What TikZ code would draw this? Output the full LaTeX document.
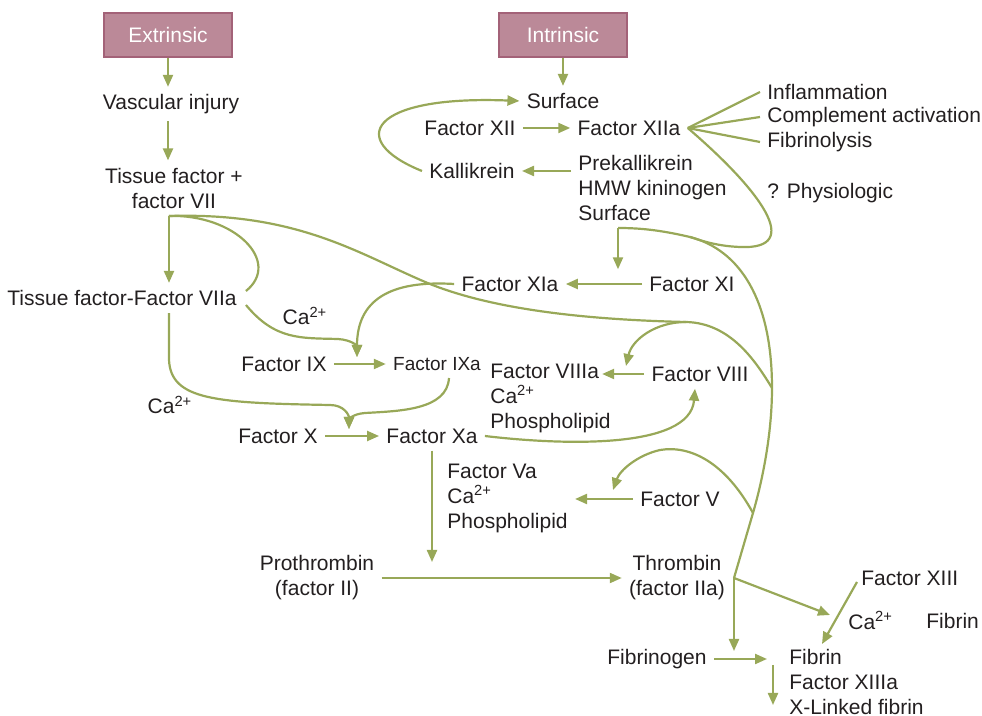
\documentclass[tikz,border=0pt]{standalone}
\usepackage{fontspec}
\setmainfont{Liberation Sans}
\usetikzlibrary{arrows.meta,positioning,calc}
\definecolor{grn}{RGB}{152,168,88}
\definecolor{boxfill}{RGB}{187,137,152}
\definecolor{boxline}{RGB}{163,98,120}
\definecolor{ink}{RGB}{35,31,32}
\newcommand{\Ca}{Ca\textsuperscript{2+}}

\begin{document}
\begin{tikzpicture}[x=0.5pt,y=-0.5pt,
  t/.style={font=\fontsize{10.5}{12.5}\selectfont,text=ink,inner sep=3.5pt},
  tl/.style={t,anchor=west,align=left},
  box/.style={draw=boxline,line width=1pt,fill=boxfill,text=white,font=\fontsize{10.5}{12.5}\selectfont,minimum width=64pt,minimum height=22pt},
  ln/.style={grn,line width=1.1pt},
  arr/.style={ln,-{Triangle[length=6pt,width=5pt]}}]
\useasboundingbox (0,0) rectangle (982,716);
\node[box] (ext) at (168,35) {Extrinsic};
\node[box] (intr) at (563,35) {Intrinsic};
\node[t] (vasc) at (171,104) {Vascular injury};
\node[t,align=center] (tf) at (174,188) {Tissue factor +\\factor VII};
\node[t] (tfa) at (122,298) {Tissue factor-Factor VIIa};
\node[t] (ca1) at (305,316) {\Ca};
\node[t] (f9) at (284,364) {Factor IX};
\node[t,font=\fontsize{9.5}{11}\selectfont] (f9a) at (437,364) {Factor IXa};
\node[t] (ca2) at (170,405) {\Ca};
\node[t] (f10) at (278,436) {Factor X};
\node[t] (f10a) at (432,436) {Factor Xa};
\node[tl] (f8a) at (483,398) {Factor VIIIa\\\Ca\\Phospholipid};
\node[t] (f8) at (700,374) {Factor VIII};
\node[t] (f11a) at (510,284) {Factor XIa};
\node[t] (f11) at (692,284) {Factor XI};
\node[t] (surf) at (563,101) {Surface};
\node[t] (f12) at (470,128) {Factor XII};
\node[t] (f12a) at (629,128) {Factor XIIa};
\node[t] (kal) at (472,171) {Kallikrein};
\node[tl] (pk) at (571,188) {Prekallikrein\\HMW kininogen\\Surface};
\node[tl] (infl) at (760,92) {Inflammation};
\node[tl] (compl) at (760,117) {Complement activation};
\node[tl] (fibl) at (760,142) {Fibrinolysis};
\node[tl] (phys) at (760,193) {? Physiologic};
\node[tl] (f5a) at (440,498) {Factor Va\\\Ca\\Phospholipid};
\node[t] (f5) at (680,499) {Factor V};
\node[t,align=center] (proth) at (317,578) {Prothrombin\\(factor II)};
\node[t,align=center] (thr) at (677,578) {Thrombin\\(factor IIa)};
\node[tl] (f13) at (854,578) {Factor XIII};
\node[tl] (ca3) at (841,620) {\Ca};
\node[tl] (fbr) at (919,621) {Fibrin};
\node[t] (fgen) at (657,659) {Fibrinogen};
\node[tl] (fib) at (782,682) {Fibrin\\Factor XIIIa\\X-Linked fibrin};
\coordinate (j7) at (169,216);
\coordinate (jIX) at (357,357);
\coordinate (jX) at (349,429);
\coordinate (jXI) at (618,228);
\coordinate (jXIb) at (690,237);
\coordinate (jVIII) at (686,322);
\coordinate (jT1) at (772,388);
\coordinate (jT2) at (753,513);
\coordinate (jT) at (734,578);
\coordinate (jIIa) at (432,562);
\coordinate (jFb) at (734,651);
\coordinate (jXIII) at (830,615);
\coordinate (jXIIIa) at (822,644);
\draw[arr] (ext.south) -- (ext.south |- vasc.north);
\draw[arr] (ext.south |- vasc.south) -- (ext.south |- tf.north);
\draw[arr] (j7) -- (j7 |- tfa.north);
\draw[ln] (j7) .. controls (235,214) and (282,262) .. ($(tfa.east)+(2,-7)$);
\draw[ln] (j7) .. controls (300,212) and (360,255) .. (430,284) .. controls (500,312) and (600,320) .. (jVIII) .. controls (730,323) and (755,360) .. (jT1);
\draw[arr] (jVIII) .. controls (655,322) and (632,340) .. (626,366);
\draw[arr] (intr.south) -- (surf.north);
\draw[arr] (f12.east) -- (f12a.west);
\draw[arr] (pk.west |- kal.east) -- (kal.east);
\draw[arr] (kal.west) .. controls (345,140) and (370,95) .. (surf.west);
\draw[ln] (f12a.east) -- (infl.west);
\draw[ln] (f12a.east) -- (compl.west);
\draw[ln] (f12a.east) -- (fibl.west);
\draw[ln] (f12a.east) .. controls (760,190) and (805,250) .. (740,247) .. controls (715,246) and (700,240) .. (jXIb);
\draw[ln] (jT) -- (jT2) .. controls (764,475) and (772,430) .. (jT1) .. controls (772,300) and (740,250) .. (jXIb) .. controls (660,230) and (640,228) .. (jXI);
\draw[arr] (jXI) -- (jXI |- f11a.north);
\draw[arr] (jT2) .. controls (725,462) and (690,445) .. (660,450) .. controls (638,455) and (620,470) .. (613,490);
\draw[arr] (f11.west) -- (f11a.east);
\draw[arr] (f11a.west) .. controls (390,280) and (357,300) .. (jIX);
\draw[arr] ($(tfa.east)+(2,7)$) .. controls (275,340) and (300,338) .. (338,339) .. controls (352,340) and (357,346) .. (jIX);
\draw[arr] (f9.east) -- (f9a.west);
\draw[arr] (j7 |- tfa.south) -- (169,360) .. controls (171,400) and (215,403) .. (330,405) .. controls (344,405) and (349,415) .. (jX);
\draw[arr] ($(f9a.south)+(12,0)$) .. controls (447,410) and (400,411) .. (365,413) .. controls (352,414) and (349,420) .. (jX);
\draw[arr] (f10.east) -- (f10a.west);
\draw[arr] (f10a.east) .. controls (560,445) and (690,450) .. ($(f8.south)+(-5,0)$);
\draw[arr] (f8.west) -- ++(-42,0);
\draw[arr] (f5.west) -- (f5a.east |- f5.west);
\draw[arr] (f10a.south) -- (jIIa);
\draw[arr] (proth.east) -- (thr.west);
\draw[arr] (jT) -- (jFb);
\draw[arr] (jT) -- (jXIII);
\draw[arr] ($(f13.west)+(3,4)$) -- (jXIIIa);
\draw[arr] (fgen.east) -- ++(53,0);
\draw[arr] ($(fib.west)+(-9,-17)$) -- ($(fib.west)+(-9,23)$);
\end{tikzpicture}
\end{document}
